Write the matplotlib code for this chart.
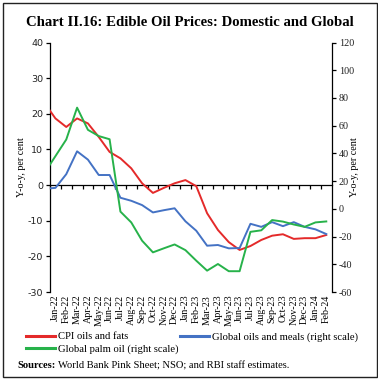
import matplotlib
matplotlib.use('Agg')
import matplotlib.pyplot as plt
from matplotlib.patches import Rectangle

plt.rcParams['axes.unicode_minus'] = False

# Data (Dec-21 point lies just outside the visible range; it only shapes the first segment)
months = ['Dec-21', 'Jan-22', 'Feb-22', 'Mar-22', 'Apr-22', 'May-22', 'Jun-22', 'Jul-22',
          'Aug-22', 'Sep-22', 'Oct-22', 'Nov-22', 'Dec-22', 'Jan-23', 'Feb-23', 'Mar-23',
          'Apr-23', 'May-23', 'Jun-23', 'Jul-23', 'Aug-23', 'Sep-23', 'Oct-23', 'Nov-23',
          'Dec-23', 'Jan-24', 'Feb-24']
cpi_oils_fats = [23.0, 18.7, 16.3, 18.7, 17.3, 13.5, 9.3, 7.5, 4.7, 0.5, -2.2, -0.8, 0.5,
                 1.4, -0.3, -7.9, -12.6, -16.0, -18.2, -17.1, -15.4, -14.2, -13.8, -15.1,
                 -14.9, -14.9, -14.0]
global_oils_meals = [14.5, 15.1, 25.0, 41.5, 35.5, 24.4, 24.4, 8.0, 5.8, 2.7, -2.6, -1.0, 0.4,
                     -9.0, -15.8, -26.6, -26.1, -28.5, -28.3, -10.8, -13.0, -9.6, -12.5, -9.6,
                     -13.0, -14.8, -18.2]
global_palm_oil = [26.0, 38.0, 50.0, 73.0, 57.0, 52.5, 50.2, -2.0, -9.8, -23.0, -31.4, -28.5,
                   -25.7, -29.8, -37.4, -44.6, -39.8, -45.0, -45.0, -16.6, -15.5, -8.1, -9.2,
                   -11.3, -13.0, -9.8, -9.1]
left_ticks = [-30, -20, -10, 0, 10, 20, 30, 40]
right_ticks = [-60, -40, -20, 0, 20, 40, 60, 80, 100, 120]

RED = '#E42A2A'
BLUE = '#4472C4'
GREEN = '#27B24A'
SERIF = 'Liberation Serif'

fig = plt.figure(figsize=(3.78, 3.82), dpi=100)
ax = fig.add_axes([50/378, 1-292/382, (331.7-50)/378, (292-42.5)/382])
ax2 = ax.twinx()

x = list(range(len(months)))
l_red, = ax.plot(x, cpi_oils_fats, color=RED, lw=1.4, label='CPI oils and fats', zorder=3)
l_blue, = ax2.plot(x, global_oils_meals, color=BLUE, lw=1.4,
                   label='Global oils and meals (right scale)')
l_green, = ax2.plot(x, global_palm_oil, color=GREEN, lw=1.4,
                    label='Global palm oil (right scale)')

ax.set_xlim(0.5, len(months) - 0.5)
ax.set_ylim(-30, 40)
ax2.set_ylim(-60, 120)
ax.set_yticks(left_ticks)
ax2.set_yticks(right_ticks)

# x tick labels at bottom
ax.set_xticks(x[1:])
ax.set_xticklabels(months[1:], rotation=90, fontsize=7.2, family=SERIF)
ax.tick_params(axis='x', length=0, pad=2)

for s in ['top', 'bottom']:
    ax.spines[s].set_visible(False)
    ax2.spines[s].set_visible(False)
ax2.spines['left'].set_visible(False)
ax.spines['right'].set_visible(False)
for a in (ax, ax2):
    for s in ['left', 'right']:
        a.spines[s].set_linewidth(0.9)

ax.tick_params(axis='y', direction='out', length=3, width=0.9, labelsize=6.8, pad=2)
for t in ax.get_yticklabels():
    t.set_family('DejaVu Sans')
    t.set_color('#222222')
ax2.tick_params(axis='y', direction='out', length=3, width=0.9, labelsize=7.3, pad=2)
for t in ax2.get_yticklabels():
    t.set_family(SERIF)
    t.set_color('#222222')

# zero line with category-boundary ticks
zero_frac = (0 - (-30)) / (40 - (-30))
sec = ax.secondary_xaxis(zero_frac)
sec.set_xticks([i + 0.5 for i in range(0, len(months) - 1)])
sec.tick_params(axis='x', direction='out', length=3, width=0.9, labelbottom=False)
sec.spines['bottom'].set_linewidth(0.9)

ax.set_ylabel('Y-o-y, per cent', fontsize=7.3, family=SERIF, labelpad=1)
ax2.set_ylabel('Y-o-y, per cent', fontsize=7.3, family=SERIF, labelpad=-3)

fig.text(190/378, 1-22.5/382, 'Chart II.16: Edible Oil Prices: Domestic and Global',
         ha='center', va='center', fontsize=10.6, fontweight='bold', family=SERIF)

leg = fig.legend([l_red, l_green, l_blue],
                 ['CPI oils and fats', 'Global palm oil (right scale)',
                  'Global oils and meals (right scale)'],
                 ncol=2, loc='upper left', bbox_to_anchor=(26/378, 1-332/382),
                 frameon=False, prop={'family': SERIF, 'size': 7.7},
                 handlelength=2.7, handletextpad=0.3, columnspacing=0.1,
                 labelspacing=0.25, borderpad=0, borderaxespad=0)
for h in leg.legend_handles:
    h.set_linewidth(2.2)

t1 = fig.text(17/378, 1-366/382, 'Sources:', fontsize=7.6, family=SERIF,
              fontweight='bold', va='center')
fig.canvas.draw()
bb = t1.get_window_extent()
fig.text((bb.x1 + 2.5)/378, 1-366/382, 'World Bank Pink Sheet; NSO; and RBI staff estimates.',
         fontsize=7.6, family=SERIF, va='center')

fig.patches.append(Rectangle((3.3/378, 1-377/382), (376.7-3.3)/378, (377-2.7)/382,
                             transform=fig.transFigure, fill=False, lw=1.0,
                             edgecolor='#222222'))

fig.savefig('out.png', dpi=100)
